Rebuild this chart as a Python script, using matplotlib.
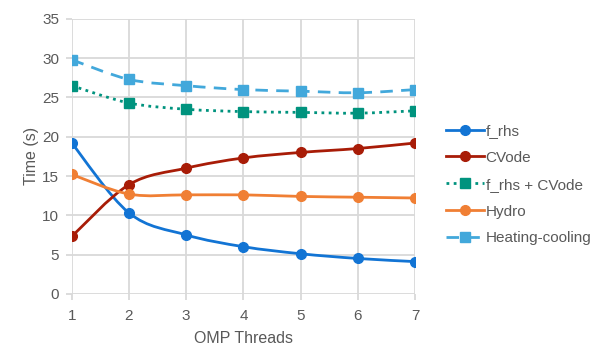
import numpy as np
import matplotlib
matplotlib.use("Agg")
from matplotlib import pyplot as plt
from matplotlib.path import Path
from matplotlib.patches import PathPatch
from matplotlib.lines import Line2D

plt.rcParams['font.family'] = ['Liberation Sans', 'DejaVu Sans']

threads = [1, 2, 3, 4, 5, 6, 7]
f_rhs = [19.2, 10.3, 7.5, 6.0, 5.1, 4.5, 4.1]
cvode = [7.3, 13.9, 16.0, 17.3, 18.0, 18.5, 19.2]
f_rhs_cvode = [26.5, 24.3, 23.5, 23.2, 23.1, 23.0, 23.3]
hydro = [15.2, 12.7, 12.6, 12.6, 12.4, 12.3, 12.2]
heating_cooling = [29.8, 27.3, 26.5, 26.0, 25.8, 25.6, 26.0]

series = [
	("f_rhs", f_rhs, "#1274D4", "-", "o"),
	("CVode", cvode, "#A81C07", "-", "o"),
	("f_rhs + CVode", f_rhs_cvode, "#00937E", (0, (1, 1.6)), "s"),
	("Hydro", hydro, "#F07F34", "-", "o"),
	("Heating-cooling", heating_cooling, "#42A8DB", (0, (4.5, 3)), "s"),
]

GRAY = "#D9D9D9"
TEXT = "#595959"


def smooth_path(xs, ys):
	# bezier path through the points, like a spreadsheet "smoothed line"
	p = np.column_stack([xs, ys]).astype(float)
	n = len(p)
	verts = [p[0]]
	codes = [Path.MOVETO]
	for i in range(n - 1):
		p0 = p[i - 1] if i > 0 else p[i]
		p3 = p[i + 2] if i + 2 < n else p[i + 1]
		c1 = p[i] + (p[i + 1] - p0) / 6.0
		c2 = p[i + 1] - (p3 - p[i]) / 6.0
		verts += [c1, c2, p[i + 1]]
		codes += [Path.CURVE4] * 3
	return Path(verts, codes)


fig = plt.figure(figsize=(5.98, 3.57), dpi=100)
ax = fig.add_axes([0.12, 0.177, 0.574, 0.77])

handles = []
for name, vals, color, ls, mk in series:
	patch = PathPatch(smooth_path(threads, vals), facecolor="none", edgecolor=color,
		lw=2.0, linestyle=ls, zorder=3, capstyle="butt")
	ax.add_patch(patch)
	ms = 7 if mk == "o" else 7.5
	ax.plot(threads, vals, linestyle="none", marker=mk, color=color, ms=ms, zorder=4)
	handles.append(Line2D([], [], color=color, lw=2.0, linestyle=ls, marker=mk, ms=ms))

ax.set_xlim(1, 7)
ax.set_ylim(0, 35)
ax.set_xticks(threads)
ax.set_yticks(np.arange(0, 36, 5))
ax.grid(True, color=GRAY, lw=1.3)
ax.set_axisbelow(True)
for s in ax.spines.values():
	s.set_visible(False)
ax.tick_params(colors=TEXT, labelsize=11, length=4, width=1.3, color=GRAY, pad=5)
ax.tick_params(axis="x", pad=7)
ax.set_xlabel("OMP Threads", fontsize=11.5, color=TEXT, labelpad=6)
ax.set_ylabel("Time (s)", fontsize=11.5, color=TEXT, labelpad=2)

leg = ax.legend(handles, [s[0] for s in series], loc="center left",
	bbox_to_anchor=(1.05, 0.397), frameon=False, fontsize=11,
	handlelength=2.5, handletextpad=0.1, labelspacing=0.84, labelcolor=TEXT)

fig.savefig("out.png", dpi=100)
